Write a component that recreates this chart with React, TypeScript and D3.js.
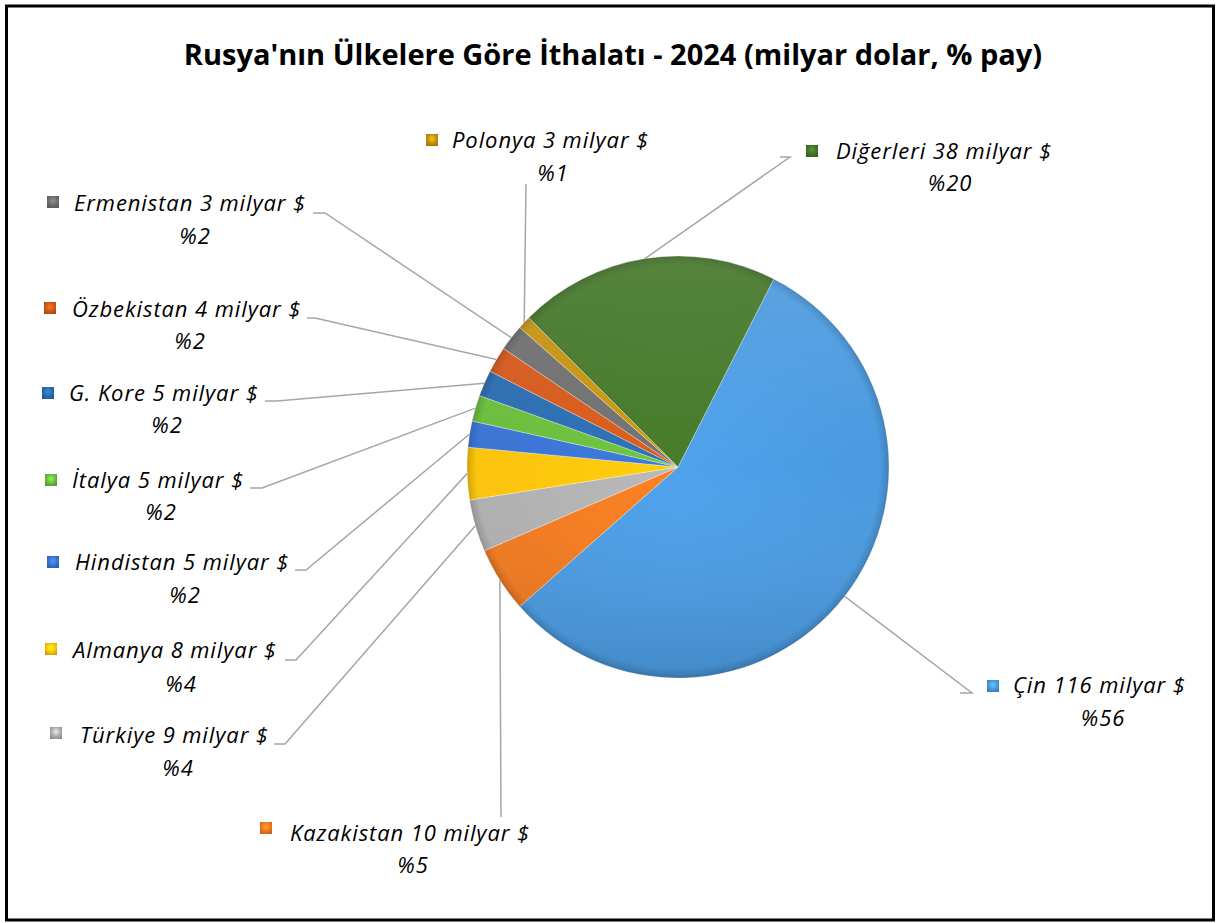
import React from "react";
import * as d3 from "d3";

// slice data (shares drive the angles, billions go in the labels)
const countries = [
  "Çin",
  "Kazakistan",
  "Türkiye",
  "Almanya",
  "Hindistan",
  "İtalya",
  "G. Kore",
  "Özbekistan",
  "Ermenistan",
  "Polonya",
  "Diğerleri",
];
const billions = [116, 10, 9, 8, 5, 5, 5, 4, 3, 3, 38];
const shares = [56, 5, 4, 4, 2, 2, 2, 2, 2, 1, 20];

const colors = [
  "#4a9ae0",
  "#f07a20",
  "#b0b0b0",
  "#fcc40c",
  "#3a74d4",
  "#6abd3c",
  "#2a6cb0",
  "#d4581a",
  "#6e6e6e",
  "#c4920f",
  "#437628",
];

// label layout: marker centre, text start, baselines, % centre, leader start/stub
const labelLayout = [
  { mx: 993, my: 686, tx: 1013, ty: 693, px: 1103, py: 726, lx: 972, ly: 693, sx: 960 },
  { mx: 266, my: 828, tx: 290, ty: 841, px: 413, py: 873, lx: 501, ly: 817, sx: 501 },
  { mx: 56, my: 733, tx: 80, ty: 743, px: 178, py: 776, lx: 285, ly: 744, sx: 274 },
  { mx: 51, my: 649, tx: 73, ty: 658, px: 181, py: 692, lx: 296, ly: 660, sx: 285 },
  { mx: 53, my: 562, tx: 75, ty: 570, px: 185, py: 603, lx: 306, ly: 570, sx: 295 },
  { mx: 51, my: 480, tx: 72, ty: 488, px: 161, py: 520, lx: 262, ly: 488, sx: 250 },
  { mx: 48, my: 393, tx: 69, ty: 401, px: 167, py: 433, lx: 277, ly: 401, sx: 265 },
  { mx: 50, my: 308, tx: 72, ty: 317, px: 190, py: 349, lx: 315, ly: 318, sx: 307 },
  { mx: 53, my: 202, tx: 74, ty: 211, px: 195, py: 244, lx: 325, ly: 213, sx: 313 },
  { mx: 432, my: 140, tx: 452, ty: 148, px: 553, py: 181, lx: 526, ly: 184, sx: 526 },
  { mx: 812, my: 151, tx: 836, ty: 159, px: 950, py: 191, lx: 790, ly: 157, sx: 780 },
];

const W = 1217;
const H = 923;
const cx = 678;
const cy = 467;
const R = 211;
const FONT = "'Open Sans', Lato, sans-serif";

export default function App() {
  const data = countries.map((c, i) => ({
    name: c,
    bn: billions[i],
    share: shares[i],
    color: colors[i],
  }));

  const startA = (27 * Math.PI) / 180;
  const pie = d3
    .pie<(typeof data)[number]>()
    .sort(null)
    .value((d) => d.share)
    .startAngle(startA)
    .endAngle(startA + 2 * Math.PI);
  const arcs = pie(data);

  const arc = d3
    .arc<d3.PieArcDatum<(typeof data)[number]>>()
    .innerRadius(0)
    .outerRadius(R);

  const edgePoint = (a: d3.PieArcDatum<any>) => {
    const m = (a.startAngle + a.endAngle) / 2;
    return [cx + R * Math.sin(m), cy - R * Math.cos(m)];
  };

  return (
    <div style={{ position: "absolute", left: 0, top: 0 }}>
      <svg width={W} height={H} style={{ display: "block" }}>
        <defs>
          {data.map((d, i) => {
            const c = d3.color(d.color)!;
            // paths are translated to the centre, so the gradient sits at 0,0
            return (
              <radialGradient
                key={i}
                id={`sl${i}`}
                gradientUnits="userSpaceOnUse"
                cx={0}
                cy={0}
                r={R}
              >
                <stop offset="0" stopColor={c.brighter(0.15).formatHex()} />
                <stop offset="0.85" stopColor={d.color} />
                <stop offset="0.955" stopColor={d.color} />
                <stop offset="0.985" stopColor={c.darker(0.3).formatHex()} />
                <stop offset="1" stopColor={c.darker(0.6).formatHex()} />
              </radialGradient>
            );
          })}
          {data.map((d, i) => {
            const c = d3.color(d.color)!;
            return (
              <radialGradient key={"m" + i} id={`mk${i}`} cx="0.5" cy="0.4" r="0.7">
                <stop offset="0" stopColor={c.brighter(0.8).formatHex()} />
                <stop offset="0.5" stopColor={d.color} />
                <stop offset="1" stopColor={c.darker(0.7).formatHex()} />
              </radialGradient>
            );
          })}
          <linearGradient id="shade" x1="0" y1="0" x2="0" y2="1">
            <stop offset="0" stopColor="#fff" stopOpacity={0.1} />
            <stop offset="0.5" stopColor="#fff" stopOpacity={0} />
            <stop offset="1" stopColor="#000" stopOpacity={0.1} />
          </linearGradient>
          <clipPath id="plot">
            <rect x={0} y={0} width={889} height={H} />
          </clipPath>
        </defs>

        <rect x={0} y={0} width={W} height={H} fill="#fff" />
        <rect
          x={6.5}
          y={6}
          width={1207}
          height={914}
          fill="none"
          stroke="#000"
          strokeWidth={3}
        />

        <text
          x={613}
          y={65}
          textAnchor="middle"
          fontFamily={FONT}
          fontWeight={700}
          fontSize={29}
          fill="#000"
        >
          Rusya'nın Ülkelere Göre İthalatı - 2024 (milyar dolar, % pay)
        </text>

        {/* leader lines */}
        <g stroke="#a6a6a6" strokeWidth={1.5} fill="none">
          {arcs.map((a, i) => {
            const L = labelLayout[i];
            const [ex, ey] = edgePoint(a);
            return (
              <polyline
                key={i}
                points={`${L.sx},${L.ly} ${L.lx},${L.ly} ${ex},${ey}`}
              />
            );
          })}
        </g>

        {/* pie */}
        <g clipPath="url(#plot)">
          {arcs.map((a, i) => (
            <path
              key={i}
              d={arc(a)!}
              transform={`translate(${cx},${cy})`}
              fill={`url(#sl${i})`}
              stroke="rgba(255,255,255,0.3)"
              strokeWidth={1}
            />
          ))}
          <circle cx={cx} cy={cy} r={R} fill="url(#shade)" />
        </g>

        {/* labels */}
        {arcs.map((a, i) => {
          const L = labelLayout[i];
          const d = a.data;
          return (
            <g
              key={i}
              fontFamily={FONT}
              fontStyle="italic"
              fontSize={22}
              letterSpacing={0.9}
              fill="#000"
            >
              <rect
                x={L.mx - 6}
                y={L.my - 6}
                width={12}
                height={12}
                fill={`url(#mk${i})`}
              />
              <text x={L.tx} y={L.ty}>
                {`${d.name} ${d.bn} milyar $`}
              </text>
              <text x={L.px} y={L.py} textAnchor="middle">
                {`%${d.share}`}
              </text>
            </g>
          );
        })}
      </svg>
    </div>
  );
}
